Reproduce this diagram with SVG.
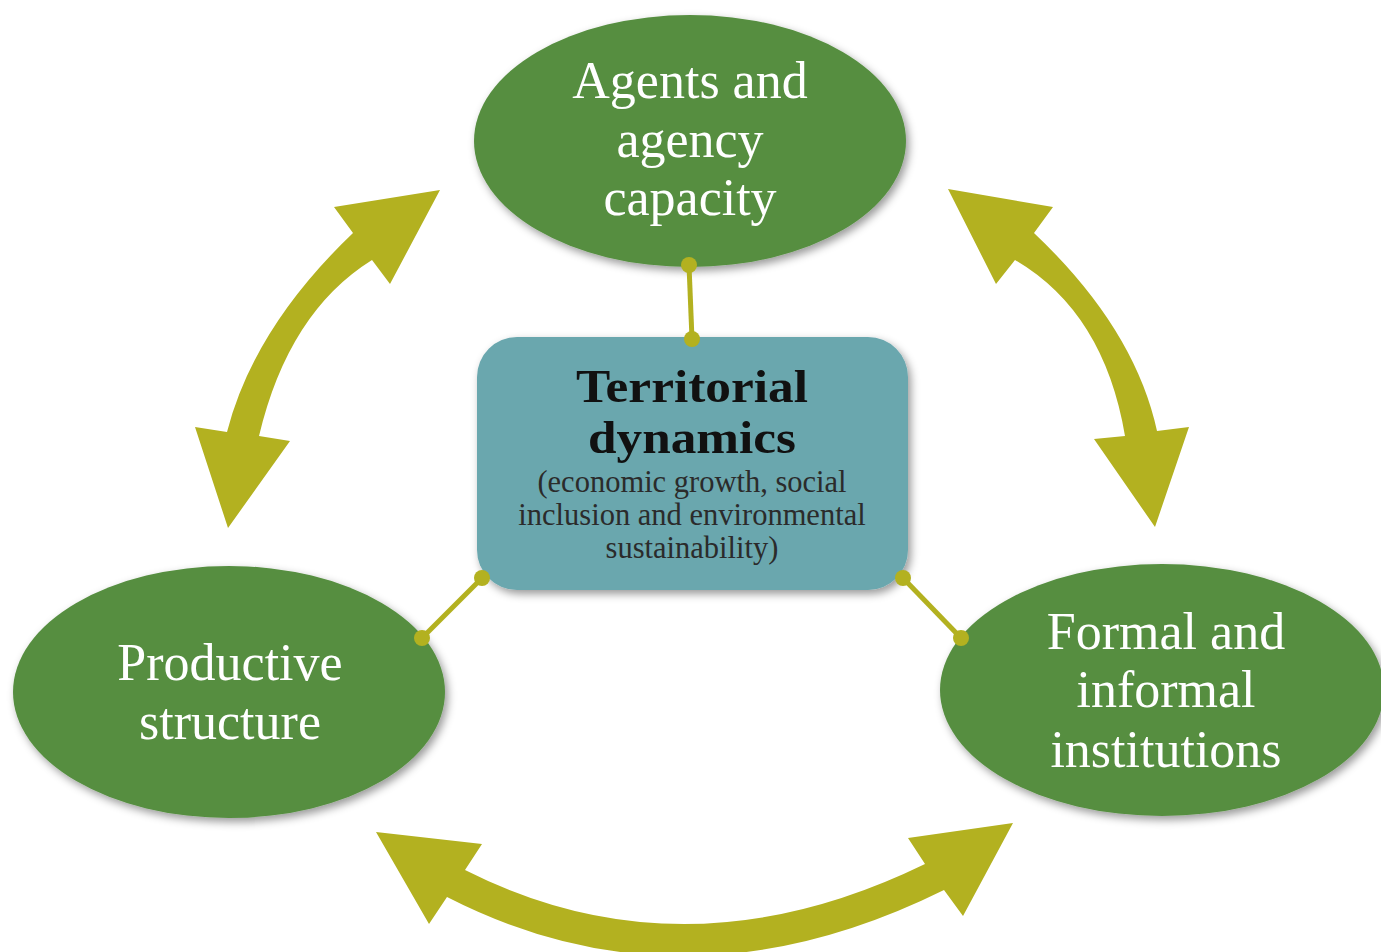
<svg xmlns="http://www.w3.org/2000/svg" width="1381" height="952" viewBox="0 0 1381 952">
<defs>
<filter id="sh" x="-20%" y="-20%" width="140%" height="140%">
<feDropShadow dx="3" dy="4" stdDeviation="4" flood-color="#000" flood-opacity="0.4"/>
</filter>
<style>
.ell{fill:#568E41;filter:url(#sh)}
.box{fill:#6BA7AE;filter:url(#sh)}
.lbl{font-family:"Liberation Serif","Times New Roman",serif;font-size:52px;fill:#ffffff;text-anchor:middle}
.ttl{font-family:"Liberation Serif","Times New Roman",serif;font-size:47px;font-weight:bold;fill:#111111;text-anchor:middle}
.sub{font-family:"Liberation Serif","Times New Roman",serif;font-size:30.5px;fill:#2b2b2b;text-anchor:middle}
.arr{fill:#B3B120}
.lnk{stroke:#B3B120;stroke-width:5;fill:none}
.dot{fill:#B3B120}
</style>
</defs>
<rect width="1381" height="952" fill="#ffffff"/>
<g id="node-agents">
<ellipse class="ell" cx="690" cy="141" rx="216" ry="126"/>
<text class="lbl" x="690" y="98">Agents and</text>
<text class="lbl" x="690" y="157">agency</text>
<text class="lbl" x="690" y="215">capacity</text>
</g>
<g id="node-productive">
<ellipse class="ell" cx="229" cy="692" rx="216" ry="126"/>
<text class="lbl" x="230" y="680">Productive</text>
<text class="lbl" x="230" y="739">structure</text>
</g>
<g id="node-institutions">
<ellipse class="ell" cx="1162" cy="690" rx="222" ry="126"/>
<text class="lbl" x="1166" y="649">Formal and</text>
<text class="lbl" x="1166" y="707">informal</text>
<text class="lbl" x="1166" y="767">institutions</text>
</g>
<g id="node-territorial">
<rect class="box" x="477" y="337" width="431" height="253" rx="40" ry="40"/>
<text class="ttl" x="692" y="402" textLength="232" lengthAdjust="spacingAndGlyphs">Territorial</text>
<text class="ttl" x="692" y="453" textLength="208" lengthAdjust="spacingAndGlyphs">dynamics</text>
<text class="sub" x="692" y="492">(economic growth, social</text>
<text class="sub" x="692" y="525">inclusion and environmental</text>
<text class="sub" x="692" y="558">sustainability)</text>
</g>
<g id="connectors">
<path class="arr" d="M440,190 L390,284 L372,260 Q288.5,312 259,436 L290,441 L228,528 L195,427 L227,432 Q254,327.5 353,233 L334,207 Z"/>
<path class="arr" d="M948,189 L1053,207 L1034,233 Q1134.5,328 1157,431 L1189,427 L1155,527 L1094,439 L1125,436 Q1104,312 1015,260 L996,284 Z"/>
<path class="arr" d="M376,832 L482,844 L465,870 Q685,981 925,864 L908,838 L1013,823 L963,916 L944,890 Q684.5,1018.5 447,897 L429,924 Z"/>
<line class="lnk" x1="689" y1="265" x2="692" y2="339"/>
<circle class="dot" cx="689" cy="265" r="8"/>
<circle class="dot" cx="692" cy="339" r="8"/>
<line class="lnk" x1="482" y1="578" x2="422" y2="638"/>
<circle class="dot" cx="482" cy="578" r="8"/>
<circle class="dot" cx="422" cy="638" r="8"/>
<line class="lnk" x1="903" y1="578" x2="961" y2="638"/>
<circle class="dot" cx="903" cy="578" r="8"/>
<circle class="dot" cx="961" cy="638" r="8"/>
</g>
</svg>
